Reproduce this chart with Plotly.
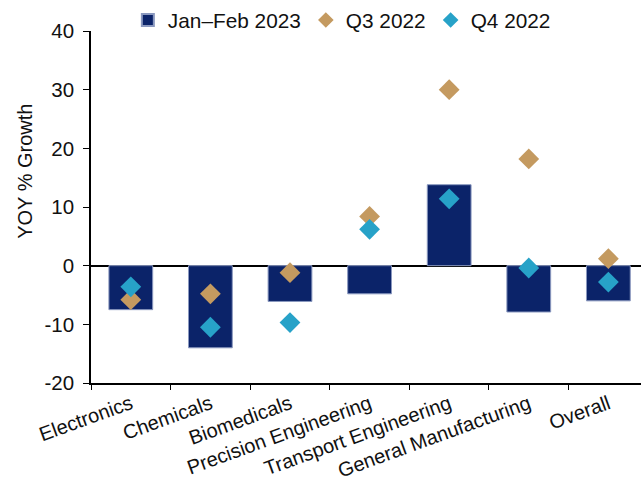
import plotly.graph_objects as go

categories = ["Electronics", "Chemicals", "Biomedicals", "Precision Engineering",
              "Transport Engineering", "General Manufacturing", "Overall"]
jan_feb_2023 = [-7.5, -14.0, -6.1, -4.8, 13.8, -7.9, -6.0]
q3_2022 = [-5.8, -4.8, -1.2, 8.4, 30.0, 18.2, 1.2]
q4_2022 = [-3.6, -10.5, -9.7, 6.2, 11.4, -0.4, -2.8]
y_ticks = [-20, -10, 0, 10, 20, 30, 40]
y_tick_labels = ["-20", "-10", "0", "10", "20", "30", "40"]

fig = go.Figure()
fig.add_trace(go.Bar(
    x=categories, y=jan_feb_2023, name="Jan\u2013Feb 2023",
    marker=dict(color="#0B2369", line=dict(color="#8a98bf", width=1)),
    width=0.55,
))
fig.add_trace(go.Scatter(
    x=categories, y=q3_2022, name="Q3 2022", mode="markers",
    marker=dict(symbol="diamond", size=16, color="#C49A60"),
))
fig.add_trace(go.Scatter(
    x=categories, y=q4_2022, name="Q4 2022", mode="markers",
    marker=dict(symbol="diamond", size=16, color="#27A2C8"),
))

fig.update_layout(
    width=641, height=493,
    margin=dict(l=91, r=0, t=27, b=110),
    paper_bgcolor="white", plot_bgcolor="white",
    font=dict(family="Liberation Sans, Arial, sans-serif", color="#111111", size=20),
    showlegend=True,
    legend=dict(orientation="h", x=0.067, xanchor="left", y=1.03, yanchor="middle",
                font=dict(size=20.8), itemsizing="constant", tracegroupgap=0,
                itemwidth=30, bgcolor="rgba(0,0,0,0)"),
    bargap=0.45,
    annotations=[dict(
        text="YOY % Growth", textangle=-90, showarrow=False,
        xref="paper", yref="paper", x=-0.12, y=0.6,
        xanchor="center", yanchor="middle",
        font=dict(size=20, color="#111111"),
    )],
)
fig.update_yaxes(
    range=[-20, 40], tickvals=y_ticks, ticktext=y_tick_labels, showgrid=False,
    showline=True, linecolor="black", linewidth=1.5,
    ticks="outside", ticklen=6, tickcolor="black", ticklabelstandoff=5,
    zeroline=True, zerolinecolor="black", zerolinewidth=1.5,
    tickfont=dict(size=20.5),
)
fig.update_xaxes(
    range=[-0.5, 6.41], showgrid=False,
    showline=True, linecolor="black", linewidth=1.5,
    ticks="outside", ticklen=5, tickcolor="black", tickson="boundaries",
    tickangle=-20, tickfont=dict(size=20),
)

fig.write_html("out.html")
